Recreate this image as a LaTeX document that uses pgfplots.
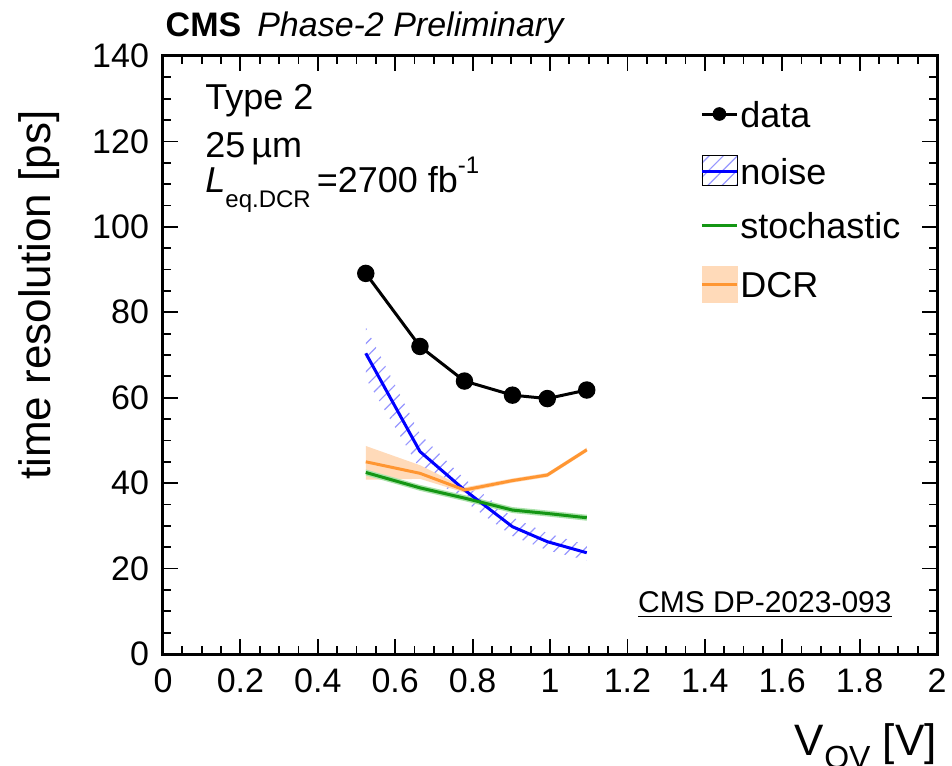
\documentclass[border=0pt]{standalone}
\usepackage{fontspec}
\setmainfont{Liberation Sans}
\usepackage{pgfplots}
\pgfplotsset{compat=1.18}
\usetikzlibrary{patterns.meta}
\definecolor{noiseblue}{RGB}{0,0,255}
\definecolor{hatchblue}{RGB}{150,150,255}
\definecolor{stochgreen}{RGB}{20,150,20}
\definecolor{bandgreen}{RGB}{170,225,170}
\definecolor{dcrorange}{RGB}{255,150,50}
\definecolor{dcrband}{RGB}{255,218,185}
\begin{document}
\begin{tikzpicture}
\begin{axis}[name=ax,
  at={(0,0)}, anchor=south west,
  scale only axis, width=387bp, height=299bp,
  xmin=0, xmax=2, ymin=0, ymax=140,
  xtick distance=0.2, ytick distance=20,
  minor x tick num=3, minor y tick num=3,
  tick align=inside,
  major tick length=7.5bp, minor tick length=4bp,
  axis line style={line width=1.5bp},
  every tick/.style={line width=0.9bp, black},
  /pgf/number format/assume math mode=true,
  ticklabel style={font=\fontsize{17bp}{19bp}\selectfont},
  xticklabel style={yshift=-4bp},
  yticklabel style={xshift=-3.5bp},
  xlabel={V\raisebox{-0.3em}{\fontsize{16bp}{16bp}\selectfont OV} [V]},
  xlabel style={at={(axis description cs:1,-0.1689)}, anchor=base east, font=\fontsize{22bp}{24bp}\selectfont, inner sep=0pt},
  ylabel={time resolution [ps]},
  ylabel style={at={(axis description cs:-0.1447,0.9097)}, anchor=base east, rotate=0, font=\fontsize{22bp}{24bp}\selectfont, inner sep=0pt},
  legend cell align=left,
  legend style={at={(axis description cs:0.6938,0.9254)}, anchor=north west, draw=none, fill=none,
    inner sep=0pt, row sep=10bp, column sep=1bp,
    nodes={inner sep=0pt, text height=13bp, text depth=4bp},
    font=\fontsize{18bp}{21bp}\selectfont},
  clip=false,
]
% noise band (hatched)
\addplot[draw=none, pattern={Lines[angle=45,distance=5bp,line width=0.6bp]}, pattern color=hatchblue, forget plot]
  coordinates {(0.524,76.5) (0.664,51.5) (0.779,41.0) (0.903,32.0) (0.993,28.3) (1.095,25.5)
               (1.095,21.9) (0.993,24.3) (0.903,27.6) (0.779,35.8) (0.664,43.3) (0.524,64.5)} -- cycle;
% DCR band
\addplot[draw=none, fill=dcrband, forget plot]
  coordinates {(0.524,48.7) (0.664,44.2) (0.779,39.0) (0.903,41.1) (0.993,42.4) (1.095,48.3)
               (1.095,47.3) (0.993,41.4) (0.903,40.1) (0.779,37.8) (0.664,41.0) (0.524,40.8)} -- cycle;
% stochastic band
\addplot[draw=none, fill=bandgreen, forget plot]
  coordinates {(0.524,43.2) (0.664,39.6) (0.779,37.2) (0.903,34.4) (0.993,33.6) (1.095,32.6)
               (1.095,31.2) (0.993,32.2) (0.903,33.0) (0.779,35.8) (0.664,38.2) (0.524,41.8)} -- cycle;
% lines
\addplot[noiseblue, line width=1.5bp, forget plot]
  coordinates {(0.524,70.4) (0.664,47.4) (0.779,38.4) (0.903,29.8) (0.993,26.3) (1.095,23.7)};
\addplot[stochgreen, line width=1.5bp, forget plot]
  coordinates {(0.524,42.5) (0.664,38.9) (0.779,36.5) (0.903,33.7) (0.993,32.9) (1.095,31.9)};
\addplot[dcrorange, line width=1.5bp, forget plot]
  coordinates {(0.524,45.0) (0.664,42.3) (0.779,38.4) (0.903,40.6) (0.993,41.9) (1.095,47.8)};
\addplot[black, line width=1.5bp, mark=*, mark size=3.6bp, forget plot]
  coordinates {(0.524,89.1) (0.664,72.0) (0.779,63.9) (0.903,60.6) (0.993,59.8) (1.095,61.8)};
% legend
\addlegendimage{legend image code/.code={
  \draw[black, line width=1.5bp] (0bp,2bp) -- (17.5bp,2bp);
  \fill[black] (8.75bp,2bp) circle (3.2bp);}}
\addlegendentry{data}
\addlegendimage{legend image code/.code={
  \fill[pattern={Lines[angle=45,distance=5bp,line width=0.6bp]}, pattern color=hatchblue] (0bp,-5bp) rectangle (17.5bp,10bp);
  \draw[noiseblue, line width=1.5bp] (0bp,2bp) -- (17.5bp,2bp);}}
\addlegendentry{noise}
\addlegendimage{legend image code/.code={
  \draw[stochgreen, line width=1.5bp] (0bp,2bp) -- (17.5bp,2bp);}}
\addlegendentry{stochastic}
\addlegendimage{legend image code/.code={
  \fill[dcrband] (0bp,-7bp) rectangle (17.5bp,11bp);
  \draw[dcrorange, line width=1.5bp] (0bp,2bp) -- (17.5bp,2bp);}}
\addlegendentry{DCR}
% texts
\node[anchor=base west, inner sep=0pt, font=\fontsize{17bp}{20bp}\selectfont] at (axis description cs:0.003,1.0318)
  {\textbf{CMS}\hspace{8bp}\textit{Phase-2 Preliminary}};
\node[anchor=base west, inner sep=0pt, font=\fontsize{18bp}{21bp}\selectfont] at (axis description cs:0.0543,0.9097) {Type 2};
\node[anchor=base west, inner sep=0pt, font=\fontsize{18bp}{21bp}\selectfont] at (axis description cs:0.0543,0.831) {25\,µm};
\node[anchor=base west, inner sep=0pt, font=\fontsize{18bp}{21bp}\selectfont] at (axis description cs:0.0543,0.771)
  {\textit{L}\raisebox{-0.4em}{\fontsize{12bp}{12bp}\selectfont eq.DCR}\,=2700 fb\raisebox{0.55em}{\fontsize{12bp}{12bp}\selectfont -1}};
\node[anchor=base east, inner sep=0pt, font=\fontsize{15bp}{18bp}\selectfont] at (axis description cs:0.9419,0.0686)
  {\underline{CMS DP-2023-093}};
\end{axis}
\pgfresetboundingbox
\path[use as bounding box] (ax.south west) ++(-81.5bp,-56bp) rectangle ++(476bp,383bp);
\end{tikzpicture}
\end{document}
